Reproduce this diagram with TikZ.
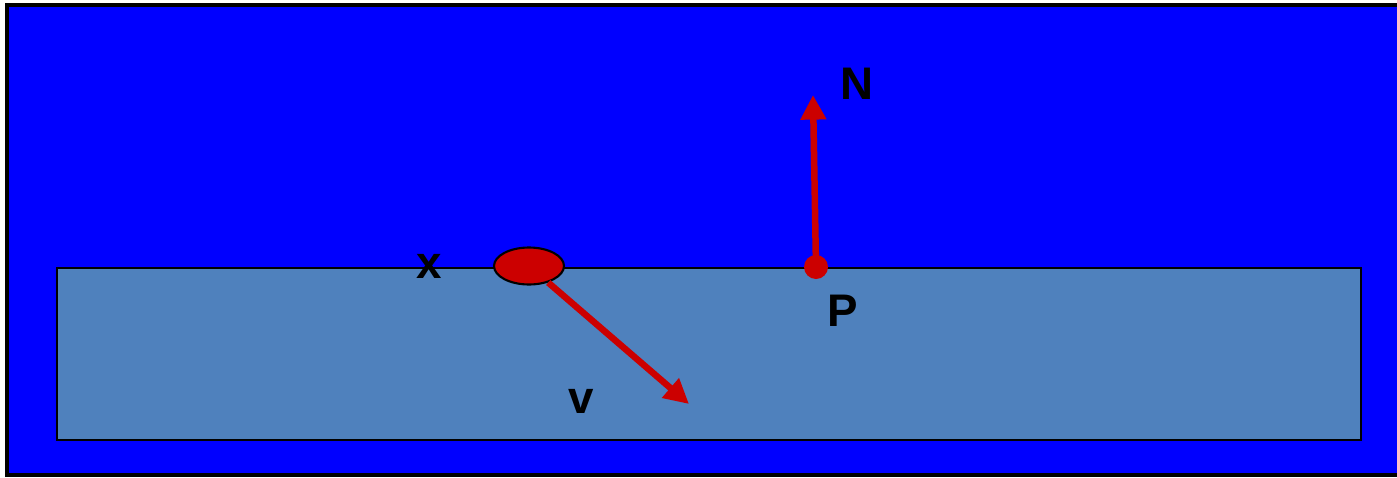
\documentclass[tikz,border=0pt]{standalone}
\usepackage{fontspec}
\setmainfont{Liberation Sans}
\usetikzlibrary{arrows.meta,shapes.geometric}
\definecolor{bgblue}{RGB}{0,0,255}
\definecolor{slab}{RGB}{79,129,189}
\definecolor{vred}{RGB}{204,0,0}
\tikzset{
  lbl/.style={font=\fontsize{26}{30}\selectfont\bfseries, text=black, inner sep=0pt},
  vec/.style={draw=vred, line width=3.7pt, -{Triangle[length=14pt,width=14pt]}},
}
\begin{document}
\begin{tikzpicture}[x=0.02cm,y=-0.02cm]
\useasboundingbox (0,0) rectangle (1397,477);
\draw[fill=bgblue, draw=black, line width=1.8pt] (7,5) rectangle (1410,475);
\draw[fill=slab, draw=black, line width=1.4pt] (57,268) rectangle (1361,440);
% N vector
\coordinate (Ntip) at (813,95);
\node[circle, fill=vred, minimum size=24*0.02cm, inner sep=0pt] (P) at (816,267) {};
\draw[vec] (P.center) -- (Ntip);
% x ellipse and v vector
\node[ellipse, draw=black, line width=1.2pt, fill=vred, minimum width=70*0.02cm, minimum height=37*0.02cm, inner sep=0pt] (X) at (529,266) {};
\coordinate (Vtip) at (689,404);
\draw[vec] (X) -- (Vtip);
% labels
\node[lbl] (ln) at (857,84) {N};
\node[lbl] (lp) at (843,311) {P};
\node[lbl] (lx) at (429,266) {x};
\node[lbl] (lv) at (581,401) {v};
\end{tikzpicture}
\end{document}
